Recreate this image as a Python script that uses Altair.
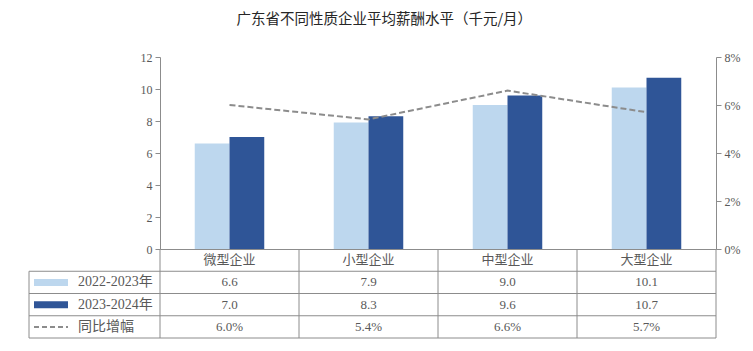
import altair as alt
import pandas as pd

# ---------------- data ----------------
categories = ["微型企业", "小型企业", "中型企业", "大型企业"]
series_names = ["2022-2023年", "2023-2024年"]
values_2022_2023 = [6.6, 7.9, 9.0, 10.1]
values_2023_2024 = [7.0, 8.3, 9.6, 10.7]
growth_name = "同比增幅"
growth_pct = [6.0, 5.4, 6.6, 5.7]
title_text = "广东省不同性质企业平均薪酬水平（千元/月）"
left_ticks = [0, 2, 4, 6, 8, 10, 12]
right_ticks = [0, 2, 4, 6, 8]

# ---------------- style ----------------
LIGHT = "#BDD7EE"
DARK = "#2F5597"
GRAY = "#8C8C8C"
LINE_GRAY = "#8C8C8C"
TEXT = "#595959"
FONT = "Liberation Serif, Noto Sans CJK SC"
CJK = "Noto Sans CJK SC"

W, H = 556, 192
TH = 89
LEFTCOL = 131

# ---------------- top chart ----------------
bars_df = pd.DataFrame({
    "cat": categories * 2,
    "series": [series_names[0]] * len(categories) + [series_names[1]] * len(categories),
    "value": values_2022_2023 + values_2023_2024,
})
line_df = pd.DataFrame({"cat": categories, "growth": growth_pct})

x_scale = alt.Scale(domain=categories, paddingInner=0, paddingOuter=0)
color_scale = alt.Scale(domain=series_names, range=[LIGHT, DARK])

bars = alt.Chart(bars_df).mark_bar().encode(
    x=alt.X("cat:N", sort=categories, scale=x_scale,
            axis=alt.Axis(labels=False, ticks=False, title=None, grid=False,
                          domainColor=GRAY)),
    xOffset=alt.XOffset("series:N", sort=series_names,
                        scale=alt.Scale(domain=series_names, paddingInner=0, paddingOuter=1)),
    y=alt.Y("value:Q", scale=alt.Scale(domain=[0, 12], nice=False),
            axis=alt.Axis(values=left_ticks, title=None, grid=False,
                          domainColor=GRAY, tickColor=GRAY, tickSize=5,
                          labelColor=TEXT, labelFont=FONT, labelFontSize=12,
                          labelPadding=3)),
    color=alt.Color("series:N", scale=color_scale, legend=None),
)

line = alt.Chart(line_df).mark_line(color=LINE_GRAY, strokeWidth=2, strokeDash=[6, 3]).encode(
    x=alt.X("cat:N", sort=categories, scale=x_scale),
    y=alt.Y("growth:Q", scale=alt.Scale(domain=[0, 8], nice=False),
            axis=alt.Axis(orient="right", values=right_ticks, title=None, grid=False,
                          labelExpr="datum.value + '%'",
                          domainColor=GRAY, tickColor=GRAY, tickSize=5,
                          labelColor=TEXT, labelFont=FONT, labelFontSize=12,
                          labelPadding=3)),
)

top = alt.layer(bars, line).resolve_scale(y="independent").properties(width=W, height=H)

# ---------------- table ----------------
row_keys = ["header"] + series_names + [growth_name]
cell_rows, cell_cats, cell_texts = [], [], []
for i, c in enumerate(categories):
    cell_rows += row_keys
    cell_cats += [c] * 4
    cell_texts += [c, f"{values_2022_2023[i]:.1f}", f"{values_2023_2024[i]:.1f}",
                   f"{growth_pct[i]:.1f}%"]
cells_df = pd.DataFrame({"row": cell_rows, "cat": cell_cats, "text": cell_texts})

tx = alt.X("cat:N", sort=categories, scale=x_scale, axis=None)
ty_scale = alt.Scale(domain=row_keys, paddingInner=0, paddingOuter=0)

def ty(**kw):
    return alt.Y("row:N", sort=row_keys, scale=ty_scale, axis=None, **kw)

cells = alt.Chart(cells_df).mark_text(font=FONT, fontSize=13, color=TEXT).encode(
    x=tx, y=ty(), text="text:N")

legend_rows_df = pd.DataFrame({"row": series_names + [growth_name]})
legend_text = alt.Chart(legend_rows_df).mark_text(
    font=FONT, fontSize=14, color=TEXT, align="left").encode(
    x=alt.value(-82), y=ty(), text="row:N")

swatch_df = pd.DataFrame({"row": series_names})
swatches = alt.Chart(swatch_df).mark_rule(strokeWidth=7).encode(
    x=alt.value(-126), x2=alt.value(-92), y=ty(),
    color=alt.Color("row:N", scale=color_scale, legend=None))

dash_df = pd.DataFrame({"row": [growth_name]})
dash_swatch = alt.Chart(dash_df).mark_rule(strokeWidth=2, strokeDash=[5, 3], color=LINE_GRAY).encode(
    x=alt.value(-126), x2=alt.value(-92), y=ty())

vlines_df = pd.DataFrame({"cat": categories})
vlines = alt.Chart(vlines_df).mark_rule(color=GRAY, strokeWidth=1).encode(
    x=alt.X("cat:N", sort=categories, scale=x_scale, axis=None, bandPosition=0),
    y=alt.value(0), y2=alt.value(TH))

one = pd.DataFrame({"k": [0]})
right_border = alt.Chart(one).mark_rule(color=GRAY, strokeWidth=1).encode(
    x=alt.value(W), y=alt.value(0), y2=alt.value(TH))
left_border = alt.Chart(pd.DataFrame({"row": [series_names[0]]})).mark_rule(
    color=GRAY, strokeWidth=1).encode(
    x=alt.value(-LEFTCOL), y=ty(bandPosition=0), y2=alt.value(TH))

hlines_df = pd.DataFrame({"row": series_names + [growth_name]})
hlines = alt.Chart(hlines_df).mark_rule(color=GRAY, strokeWidth=1).encode(
    x=alt.value(-LEFTCOL), x2=alt.value(W), y=ty(bandPosition=0))
bottom_line = alt.Chart(one).mark_rule(color=GRAY, strokeWidth=1).encode(
    x=alt.value(-LEFTCOL), x2=alt.value(W), y=alt.value(TH))

table = alt.layer(vlines, right_border, left_border, hlines, bottom_line,
                  swatches, dash_swatch, legend_text, cells).properties(width=W, height=TH)

chart = alt.vconcat(top, table, spacing=0, bounds="flush").properties(
    title=alt.TitleParams(title_text, anchor="middle", fontSize=14.5, font=CJK,
                          fontWeight="normal", color="#262626", offset=24),
    padding={"left": 28, "top": 11, "right": 10, "bottom": 5},
).configure_view(strokeWidth=0)

chart.save("out.html", embed_options={"renderer": "svg", "actions": False})
